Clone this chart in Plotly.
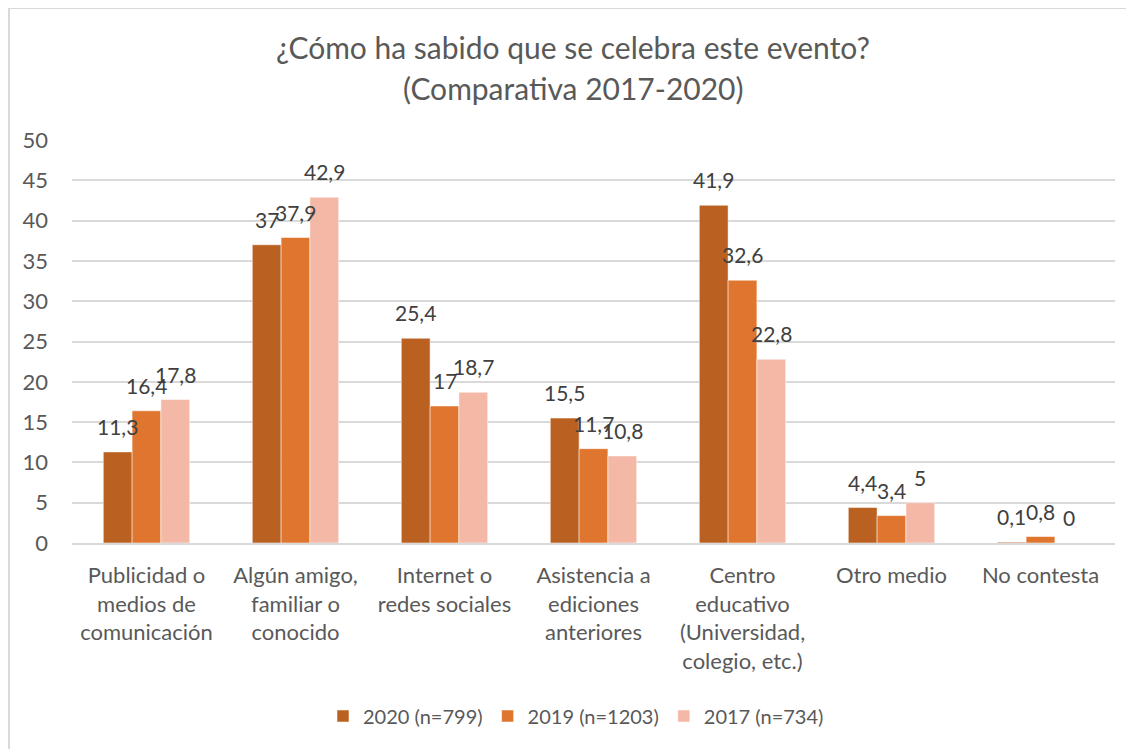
import plotly.graph_objects as go

categories = [
    "Publicidad o<br>medios de<br>comunicación",
    "Algún amigo,<br>familiar o<br>conocido",
    "Internet o<br>redes sociales",
    "Asistencia a<br>ediciones<br>anteriores",
    "Centro<br>educativo<br>(Universidad,<br>colegio, etc.)",
    "Otro medio",
    "No contesta",
]
series_names = ["2020 (n=799)", "2019 (n=1203)", "2017 (n=734)"]
v2020 = [11.3, 37, 25.4, 15.5, 41.9, 4.4, 0.1]
v2019 = [16.4, 37.9, 17, 11.7, 32.6, 3.4, 0.8]
v2017 = [17.8, 42.9, 18.7, 10.8, 22.8, 5, 0]
colors = ["#BA6122", "#DF752E", "#F4B8A6"]
title_lines = ["¿Cómo ha sabido que se celebra este evento?", "(Comparativa 2017-2020)"]
y_ticks = [0, 5, 10, 15, 20, 25, 30, 35, 40, 45, 50]

FONT = "Lato"
OFF = 8  # page body offset
W, H = 1134 - OFF, 749 - OFF
ML, MR, MT, MB = 72 - OFF, 19, 140 - OFF, 206
BARGAP = 0.42
PW = W - ML - MR
PH = H - MT - MB

fig = go.Figure()
all_vals = [v2020, v2019, v2017]
for name, vals, col in zip(series_names, all_vals, colors):
    fig.add_trace(go.Bar(
        x=categories, y=vals, name=name,
        marker=dict(color=col, line=dict(width=0.5, color="white")),
        hoverinfo="skip",
    ))

def fmt(v):
    return ("%g" % v).replace(".", ",")

cat_px = PW / len(categories)
bar_px = cat_px * (1 - BARGAP) / 3
annotations = []
for i, vals in enumerate(all_vals):
    for c, v in zip(categories, vals):
        annotations.append(dict(
            x=c, y=v, xref="x", yref="y", text=fmt(v), showarrow=False,
            xshift=(i - 1) * bar_px, yshift=11, yanchor="bottom", xanchor="center",
            font=dict(family=FONT, size=21, color="#404040"),
        ))

def px_x(p):  # figure px -> paper x
    return (p - ML) / PW

def px_y(p):  # figure px (from top) -> paper y
    return (H - MB - p) / PH

for t, yy in zip(title_lines, [47, 88]):
    annotations.append(dict(
        x=px_x(573 - OFF), y=px_y(yy - OFF), xref="paper", yref="paper",
        text=t, showarrow=False, xanchor="center", yanchor="middle",
        font=dict(family=FONT, size=30, color="#595959"),
    ))

fig.update_layout(
    width=W, height=H,
    margin=dict(l=ML, r=MR, t=MT, b=MB, autoexpand=False),
    paper_bgcolor="white", plot_bgcolor="white",
    barmode="group", bargap=BARGAP, bargroupgap=0,
    font=dict(family=FONT, size=22, color="#595959"),
    showlegend=True,
    legend=dict(orientation="h", x=px_x(576 - OFF), xanchor="center", y=px_y(716 - OFF), yanchor="middle",
                font=dict(family=FONT, size=20, color="#595959"), itemwidth=30,
                traceorder="normal"),
    annotations=annotations,
    shapes=[
        dict(type="line", xref="paper", yref="paper", x0=px_x(0), x1=px_x(W),
             y0=px_y(0), y1=px_y(0), line=dict(color="#D9D9D9", width=2)),
        dict(type="line", xref="paper", yref="paper", x0=px_x(1), x1=px_x(1),
             y0=px_y(0), y1=px_y(H), line=dict(color="#D9D9D9", width=2)),
    ],
)
fig.update_xaxes(showgrid=False, showline=True, linecolor="#D9D9D9", linewidth=1.5,
                 tickfont=dict(family=FONT, size=22, color="#595959"), ticks="", ticklabelstandoff=12)
fig.update_yaxes(range=[0, 50], tickvals=y_ticks, showgrid=True, gridcolor="#D9D9D9", gridwidth=1.5,
                 zeroline=False, showline=False, ticks="",
                 tickfont=dict(family=FONT, size=22, color="#595959"), ticklabelstandoff=23)

fig.write_html("out.html")
